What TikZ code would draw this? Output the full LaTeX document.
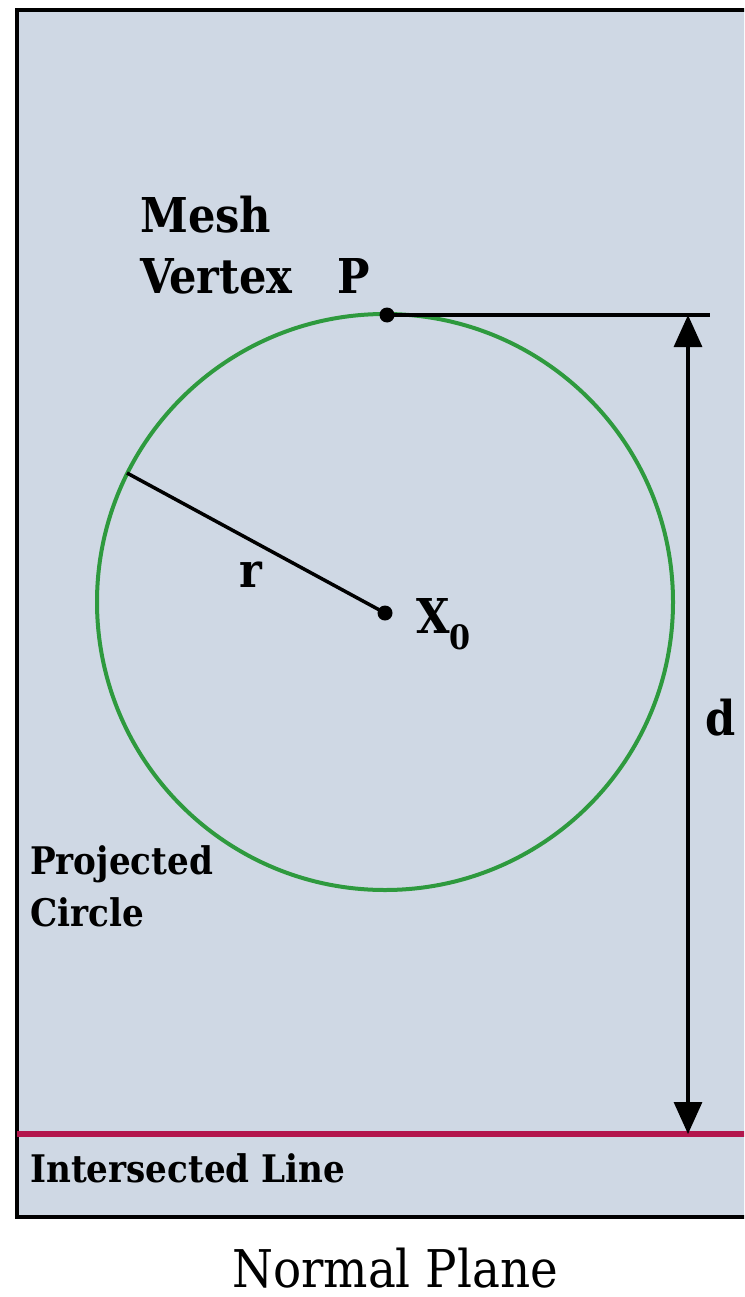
\documentclass[tikz,border=0pt]{standalone}
\usepackage{fontspec}
\newfontfamily\tms{DejaVu Serif Condensed}
\usetikzlibrary{arrows.meta}
\definecolor{planebg}{HTML}{CFD8E4}
\definecolor{circgreen}{HTML}{2E9A3E}
\definecolor{linered}{HTML}{B3164C}
\tikzset{
  lbl/.style={inner sep=0pt, anchor=base west, font=\tms\bfseries\fontsize{48}{48}\selectfont},
  small/.style={inner sep=0pt, anchor=base west, font=\tms\bfseries\fontsize{38}{38}\selectfont},
  dotpt/.style={circle, fill=black, inner sep=0pt, minimum size=15pt},
  dim/.style={line width=3.2pt, {Triangle[length=32pt,width=28pt]}-{Triangle[length=32pt,width=28pt]}},
}
\begin{document}
\begin{tikzpicture}[x=1pt,y=-1pt]
\useasboundingbox (0,0) rectangle (744,1297);
\clip (0,0) rectangle (744,1297);
\fill[white] (0,0) rectangle (744,1297);
\filldraw[fill=planebg, draw=black, line width=3.5pt] (17,10) rectangle (780,1217);
% circle
\draw[circgreen, line width=4pt] (385,602) circle (288);
% points
\node[dotpt] (P) at (387,315) {};
\node[dotpt] (X0) at (385,613) {};
\coordinate (rim) at (127,473);
\coordinate (topend) at (710,315);
\coordinate (dtop) at (688,315);
\coordinate (dbot) at (688,1134);
\coordinate (redl) at (17,1134);
\coordinate (redr) at (780,1134);
% lines
\draw[line width=3.5pt] (P.center) -- (topend);
\draw[line width=3.5pt] (rim) -- (X0.center);
\draw[linered, line width=6pt] (redl) -- (redr);
\draw[dim] (dtop) -- (dbot);
% labels
\node[lbl] (mesh) at (140,233) {Mesh};
\node[lbl] (vertex) at (140,293) {Vertex};
\node[lbl] (plbl) at (337,293) {P};
\node[lbl] (rlbl) at (239,587) {r};
\node[lbl] (xlbl) at (416,633) {X\textsubscript{0}};
\node[lbl] (dlbl) at (705,735) {d};
\node[small] (proj) at (30,874) {Projected};
\node[small] (circ) at (30,926) {Circle};
\node[small] (inter) at (30,1182) {Intersected Line};
\node[inner sep=0pt, anchor=base west, font=\tms\fontsize{52}{52}\selectfont] (np) at (232,1287) {Normal Plane};
\end{tikzpicture}
\end{document}
